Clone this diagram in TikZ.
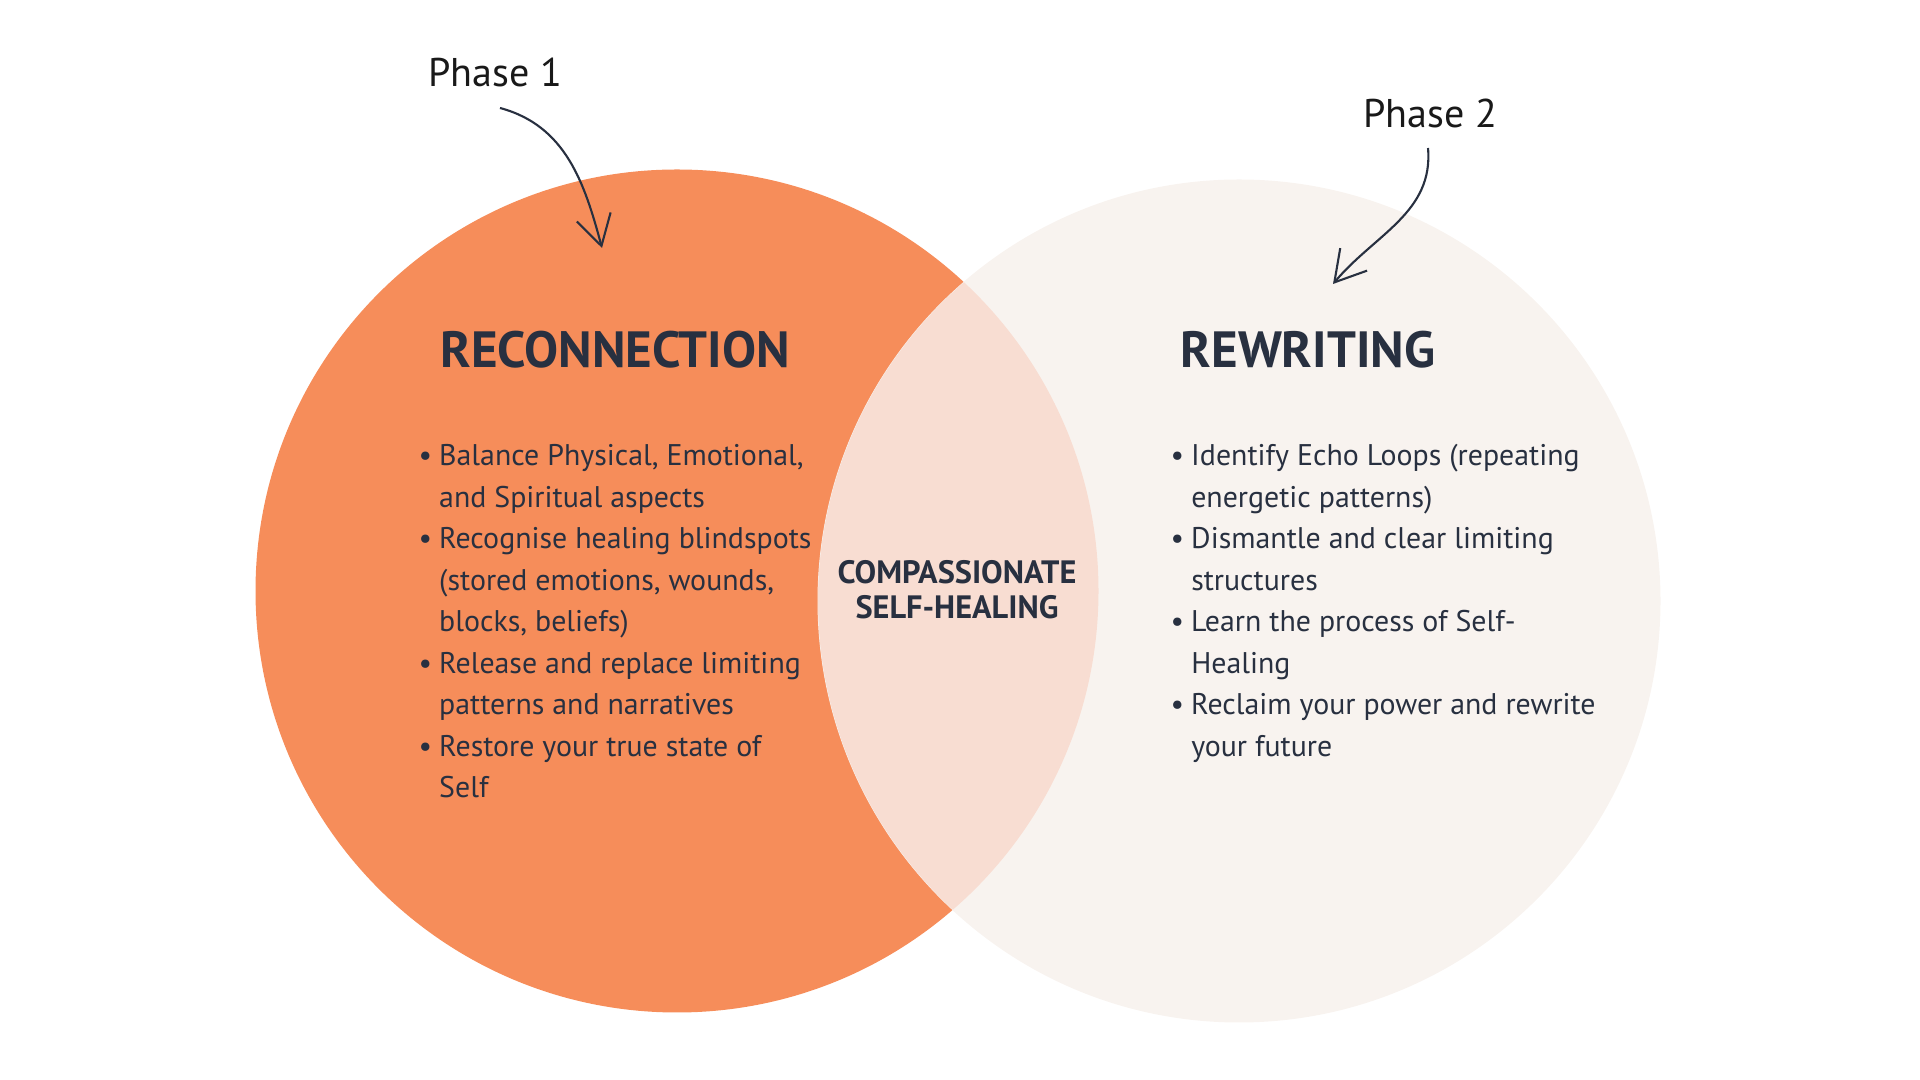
\documentclass[tikz,border=0pt]{standalone}
\usepackage{fontspec}
\setmainfont{PT Sans}
\usepackage{tikz}
\usetikzlibrary{arrows.meta,positioning}
\definecolor{ink}{HTML}{283040}
\definecolor{coral}{HTML}{F68D5A}
\definecolor{blush}{HTML}{F8DDD2}
\definecolor{shell}{HTML}{F8F3EF}
\newcommand{\blt}{\textbullet}
\tikzset{phase/.style={circle,minimum size=8.43cm,inner sep=0pt},
  heading/.style={font=\fontsize{14.5}{16}\selectfont\bfseries,text=ink,anchor=base west,inner sep=0pt},
  bullets/.style={font=\fontsize{8.5}{11.8}\selectfont,text=ink,anchor=base west,inner sep=0pt},
  core/.style={font=\fontsize{9.2}{10}\selectfont\bfseries,text=ink,align=center,inner sep=0pt},
  tag/.style={font=\fontsize{11.4}{13}\selectfont,text=black!90,inner sep=0pt},
  arr/.style={-{Straight Barb[length=3mm,width=3.5mm]},line width=.6pt,draw=ink}}

\begin{document}
\begin{tikzpicture}
\useasboundingbox (0,0) rectangle (19.2,10.8);
% the two circles and their overlap
\node[phase,fill=coral] (recon) at (6.77,4.89) {};
\node[phase,fill=shell] (rewrite) at (12.39,4.79) {};
\begin{scope}
\clip (recon.center) circle (4.215);
\fill[blush] (rewrite.center) circle (4.21);
\end{scope}

\node[heading] (t1) at (4.40,7.12) {RECONNECTION};
\node[heading] (t2) at (11.80,7.12) {REWRITING};

\node[bullets] (l1) at (4.18,6.14) {\begin{tabular}[t]{@{}l@{\hspace{2pt}}l@{}}
\blt & Balance Physical, Emotional,\\
 & and Spiritual aspects\\
\blt & Recognise healing blindspots\\
 & (stored emotions, wounds,\\
 & blocks, beliefs)\\
\blt & Release and replace limiting\\
 & patterns and narratives\\
\blt & Restore your true state of\\
 & Self
\end{tabular}};
\node[bullets] (l2) at (11.70,6.14) {\begin{tabular}[t]{@{}l@{\hspace{2pt}}l@{}}
\blt & Identify Echo Loops (repeating\\
 & energetic patterns)\\
\blt & Dismantle and clear limiting\\
 & structures\\
\blt & Learn the process of Self-\\
 & Healing\\
\blt & Reclaim your power and rewrite\\
 & your future
\end{tabular}};

\node[core] (mid) at (9.57,4.90) {COMPASSIONATE\\SELF-HEALING};

% phase markers
\node[tag] (p1) at (4.95,10.08) {Phase 1};
\node[tag] (p2) at (14.30,9.67) {Phase 2};
\coordinate (p1from) at (5.00,9.72);
\coordinate (p1to) at (6.02,8.32);
\coordinate (p2from) at (14.28,9.32);
\coordinate (p2to) at (13.33,7.96);
\draw[arr] (p1from) to[out=-15,in=105] (p1to);
\draw[arr] (p2from) to[out=-85,in=50] (p2to);
\end{tikzpicture}
\end{document}
